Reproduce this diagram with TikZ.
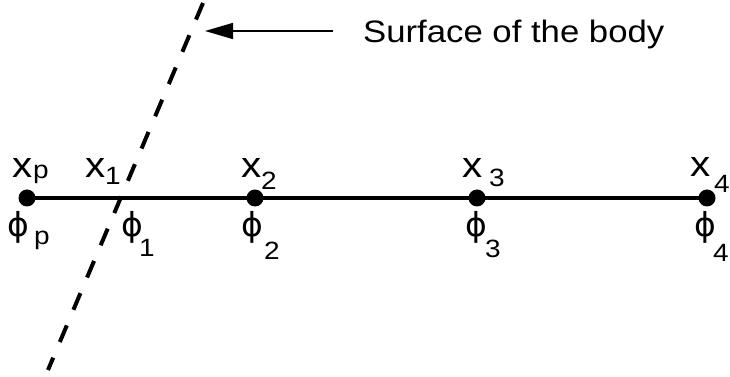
\documentclass[tikz,border=0pt]{standalone}
\usepackage{fontspec}
\setmainfont{Liberation Sans}
\newfontfamily\dejavu{DejaVu Sans}
\usetikzlibrary{arrows.meta,backgrounds}
\newcommand\widetxt[1]{\scalebox{1.12}[1]{#1}}
\begin{document}
\begin{tikzpicture}[x=1pt,y=1pt,
  lbl/.style={inner sep=0, anchor=base west, font=\fontsize{36}{36}\selectfont},
  sub/.style={inner sep=0, anchor=base west, font=\fontsize{25}{25}\selectfont},
  phisym/.style={inner sep=0, font=\dejavu\fontsize{33}{33}\selectfont},
  dot/.style={circle, fill=black, inner sep=0, minimum size=17pt},
  surface/.style={line width=4pt, dash pattern=on 18pt off 17pt},
  pointer/.style={line width=1.5pt, -{Triangle[length=28pt,width=16pt]}}]
\useasboundingbox (0,0) rectangle (730,377);
% surface of the body
\coordinate (st) at (203,374);
\coordinate (sb) at (48,7);
\draw[surface] (st) -- (sb);
% grid points
\node[dot] (p)  at (27,179) {};
\node[dot] (n2) at (255,179) {};
\node[dot] (n3) at (477,179) {};
\node[dot] (n4) at (707,179) {};
\begin{pgfonlayer}{background}
\draw[line width=4.5pt] (p.center) -- (n4.center);
\end{pgfonlayer}
% label and arrow
\node[inner sep=0, anchor=base west, font=\fontsize{31}{31}\selectfont] (lab) at (363,334) {\widetxt{Surface of the body}};
\coordinate (atail) at (333,346);
\coordinate (ahead) at (205,346);
\draw[pointer] (atail) -- (ahead);
% x labels
\node[lbl] (xp) at (12,199) {\widetxt{x}};
\node[sub] (xps) at (33,198) {\widetxt{p}};
\node[lbl] (x1) at (85,199) {\widetxt{x}};
\node[sub] (x1s) at (105,192) {\widetxt{1}};
\node[lbl] (x2) at (241,199) {\widetxt{x}};
\node[sub] (x2s) at (261,187) {\widetxt{2}};
\node[lbl] (x3) at (462,199) {\widetxt{x}};
\node[sub] (x3s) at (489,190) {\widetxt{3}};
\node[lbl] (x4) at (690,200) {\widetxt{x}};
\node[sub] (x4s) at (714,184) {\widetxt{4}};
% phi labels
\node[phisym] (fp) at (18.5,149.5) {ϕ};
\node[sub] (fps) at (34,132) {\widetxt{p}};
\node[phisym] (f1) at (132.5,149.5) {ϕ};
\node[sub] (f1s) at (139,120) {\widetxt{1}};
\node[phisym] (f2) at (252.5,149.5) {ϕ};
\node[sub] (f2s) at (264,117) {\widetxt{2}};
\node[phisym] (f3) at (476,149.5) {ϕ};
\node[sub] (f3s) at (485,119) {\widetxt{3}};
\node[phisym] (f4) at (705,149.5) {ϕ};
\node[sub] (f4s) at (713,115) {\widetxt{4}};
\end{tikzpicture}
\end{document}
